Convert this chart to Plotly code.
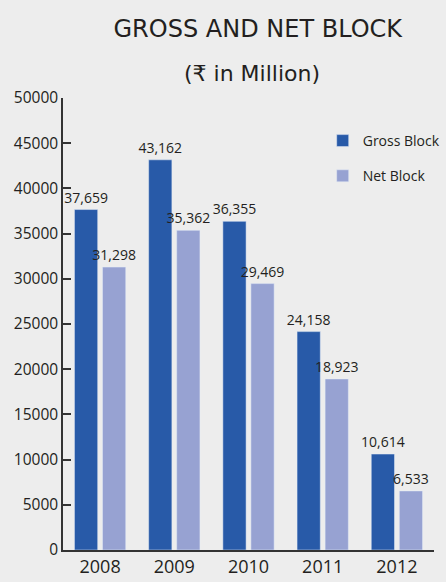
import plotly.graph_objects as go

years = ["2008", "2009", "2010", "2011", "2012"]
gross_block = [37659, 43162, 36355, 24158, 10614]
net_block = [31298, 35362, 29469, 18923, 6533]
y_ticks = [0, 5000, 10000, 15000, 20000, 25000, 30000, 35000, 40000, 45000, 50000]

GROSS_COLOR = "#285aa8"
NET_COLOR = "#97a2d2"
TEXT = "#231f20"
BG = "#ededed"
FONT = "Open Sans"

TOP, BOTTOM = 98, 32
PLOT_H = 582 - TOP - BOTTOM
AXIS_Y = 582 - BOTTOM

fig = go.Figure()
fig.add_trace(go.Bar(
    x=years, y=gross_block, name="Gross Block", marker_color=GROSS_COLOR,
    text=gross_block, texttemplate="%{y:,}", textposition="outside",
    textfont=dict(size=14, color=TEXT, family=FONT), cliponaxis=False,
    constraintext="none", legendgroup="g",
))
fig.add_trace(go.Bar(
    x=years, y=net_block, name="Net Block", marker_color=NET_COLOR,
    text=net_block, texttemplate="%{y:,}", textposition="outside",
    textfont=dict(size=14, color=TEXT, family=FONT), cliponaxis=False,
    constraintext="none", legendgroup="n",
))

fig.update_layout(
    width=446, height=582,
    margin=dict(l=63, r=0, t=TOP, b=BOTTOM),
    paper_bgcolor=BG, plot_bgcolor=BG,
    font=dict(family=FONT, color=TEXT),
    barmode="group", bargap=0.244, bargroupgap=0.172,
    title=dict(text="GROSS AND NET BLOCK", x=0.578, xanchor="center",
               y=1 - 29 / 582, yanchor="middle",
               font=dict(family="DejaVu Sans", size=24, color=TEXT)),
    annotations=[dict(text="(₹ in Million)", xref="paper", yref="paper",
                      x=0.509, y=(AXIS_Y - 73) / PLOT_H, xanchor="center", yanchor="middle",
                      showarrow=False, font=dict(family="DejaVu Sans", size=22, color=TEXT))],
    legend=dict(x=0.70, y=1 - (125 - TOP) / PLOT_H, xanchor="left", yanchor="top",
                bgcolor="rgba(0,0,0,0)", font=dict(size=14, color=TEXT, family=FONT),
                traceorder="grouped", tracegroupgap=14),
    showlegend=True,
)
fig.update_yaxes(range=[0, 50000], tickvals=y_ticks, tickformat="d",
                 ticks="inside", ticklen=8, tickwidth=1.5, tickcolor="#333333",
                 showline=True, linecolor="#333333", linewidth=1.5,
                 showgrid=False, zeroline=False, automargin=False,
                 tickfont=dict(size=15.5, color=TEXT, family=FONT))
fig.update_xaxes(showline=True, linecolor="#333333", linewidth=1.5,
                 showgrid=False, ticks="", automargin=False,
                 tickfont=dict(size=18, color=TEXT, family=FONT))

fig.write_html("out.html")
